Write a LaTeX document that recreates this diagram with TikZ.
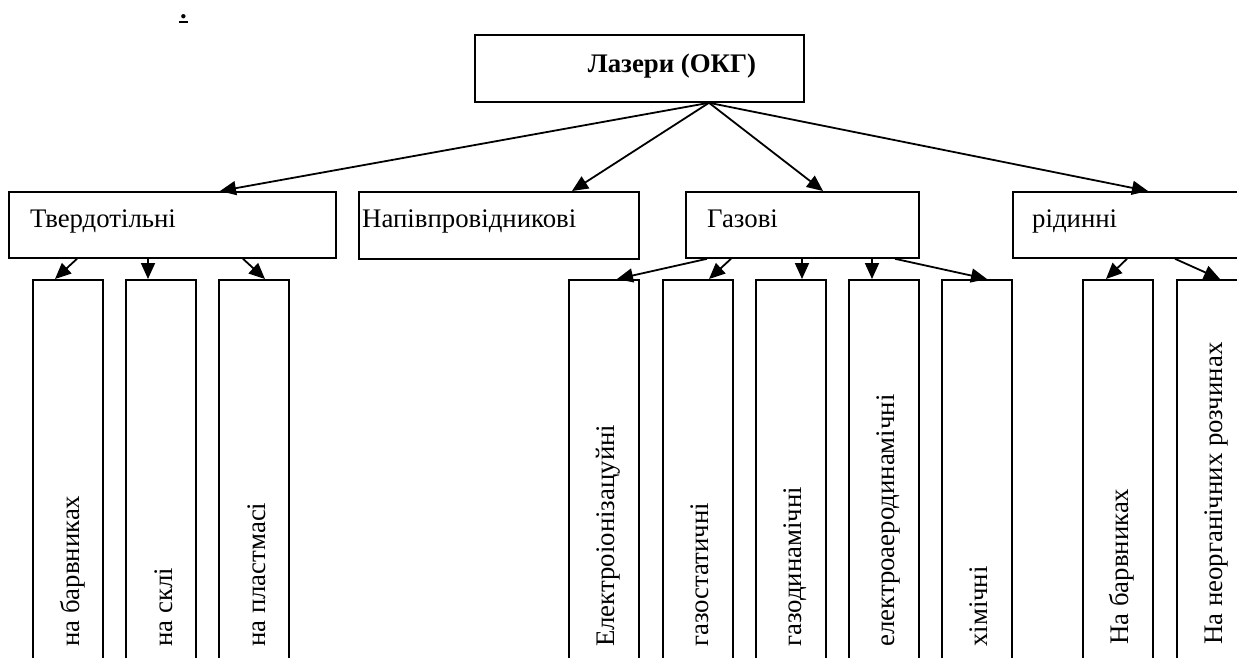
\documentclass[tikz,border=0pt]{standalone}
\usepackage{fontspec}
\setmainfont{Liberation Serif}
\usetikzlibrary{arrows.meta,calc}
\begin{document}
\begin{tikzpicture}[x=1pt,y=-1pt,
  box/.style={draw,line width=1.8pt,inner sep=0pt,anchor=north west},
  lbl/.style={font=\fontsize{26.8}{31}\selectfont,inner sep=0pt,anchor=base west},
  vlbl/.style={font=\fontsize{26.8}{31}\selectfont,inner sep=0pt,anchor=base west,rotate=90},
  arr/.style={line width=1.8pt,-{Triangle[length=16pt,width=14pt]}}]
\clip (0,0) rectangle (1237,657);
% dot
\node[font=\fontsize{26.8}{31}\selectfont\bfseries,inner sep=0pt,anchor=base] (dot) at (183.5,18) {.};
\draw[line width=2pt] ($(dot.base)+(-4.5,4)$) -- ($(dot.base)+(4.5,4)$);
% top
\node[box,minimum width=329pt,minimum height=67pt] (top) at (474,34) {};
\node[font=\fontsize{26.8}{31}\selectfont\bfseries,inner sep=0pt,anchor=base] (toptxt) at (672,72) {Лазери (ОКГ)};
% level 2
\node[box,minimum width=327pt,minimum height=66pt] (solid) at (8,191) {};
\node[box,minimum width=280pt,minimum height=67pt] (semi) at (358,191) {};
\node[box,minimum width=233pt,minimum height=66pt] (gas) at (685,191) {};
\node[box,minimum width=260pt,minimum height=66pt] (liq) at (1012,191) {};
\node[lbl] (solidtxt) at (30,227) {Твердотільні};
\node[lbl] (semitxt) at (362,227) {Напівпровідникові};
\node[lbl] (gastxt) at (707,227) {Газові};
\node[lbl] (liqtxt) at (1032,227) {рідинні};
% level 3
\foreach \n/\x in {s1/32,s2/125,s3/218,g1/568,g2/662,g3/755,g4/848,g5/941,l1/1082,l2/1176}{
  \node[box,minimum width=70pt,minimum height=420pt] (\n) at (\x,279) {};
}
\node[vlbl] (s1t) at ($(s1.north west)+(47,368)$) {на барвниках};
\node[vlbl] (s2t) at ($(s2.north west)+(47,368)$) {на склі};
\node[vlbl] (s3t) at ($(s3.north west)+(47,368)$) {на пластмасі};
\node[vlbl] (g1t) at ($(g1.north west)+(46,368)$) {Електроіонізацуйні};
\node[vlbl] (g2t) at ($(g2.north west)+(46,368)$) {газостатичні};
\node[vlbl] (g3t) at ($(g3.north west)+(46,368)$) {газодинамічні};
\node[vlbl] (g4t) at ($(g4.north west)+(46,368)$) {електроаеродинамічні};
\node[vlbl] (g5t) at ($(g5.north west)+(46,368)$) {хімічні};
\node[vlbl] (l1t) at ($(l1.north west)+(46,366)$) {На барвниках};
\node[vlbl] (l2t) at ($(l2.north west)+(46,366)$) {На неорганічних розчинах};
% arrows from top
\coordinate (src) at ($(top.south west)+(235,0)$);
\draw[arr] (src) -- ($(solid.north west)+(212,0)$);
\draw[arr] (src) -- ($(semi.north west)+(214,0)$);
\draw[arr] (src) -- ($(gas.north west)+(138,0)$);
\draw[arr] (src) -- ($(liq.north west)+(136,0)$);
% solid children
\draw[arr] ($(solid.south west)+(69,0)$) -- ($(s1.north west)+(23,0)$);
\draw[arr] ($(solid.south west)+(140,0)$) -- ($(s2.north west)+(23,0)$);
\draw[arr] ($(solid.south west)+(235,0)$) -- ($(s3.north west)+(47,0)$);
% gas children
\draw[arr] ($(gas.south west)+(22,0)$) -- ($(g1.north west)+(49,0)$);
\draw[arr] ($(gas.south west)+(46,0)$) -- ($(g2.north west)+(47,0)$);
\draw[arr] ($(gas.south west)+(117,0)$) -- ($(g3.north west)+(47,0)$);
\draw[arr] ($(gas.south west)+(187,0)$) -- ($(g4.north west)+(24,0)$);
\draw[arr] ($(gas.south west)+(210,0)$) -- ($(g5.north west)+(46,0)$);
% liquid children
\draw[arr] ($(liq.south west)+(115,0)$) -- ($(l1.north west)+(24,0)$);
\draw[arr] ($(liq.south west)+(163,0)$) -- ($(l2.north west)+(44,0)$);
\end{tikzpicture}
\end{document}
